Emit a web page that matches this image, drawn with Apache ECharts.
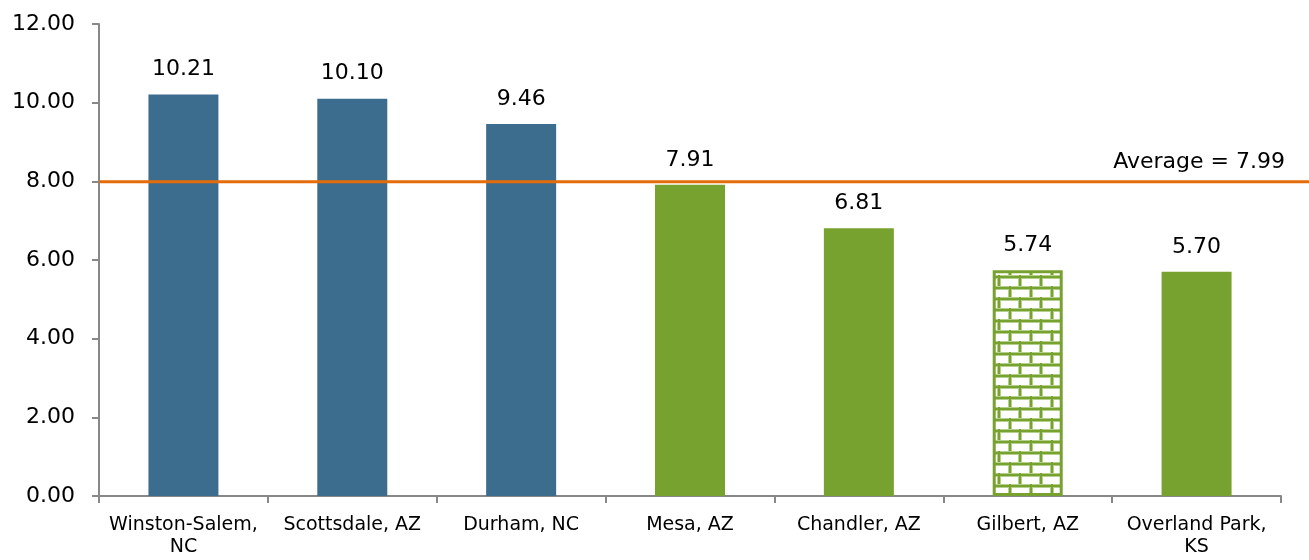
<!DOCTYPE html>
<html>
<head>
<meta charset="utf-8">
<script src="https://cdn.jsdelivr.net/npm/echarts@6/dist/echarts.min.js"></script>
<style>
html,body{margin:0;padding:0;background:#fff;}
#chart{width:1309px;height:560px;}
</style>
</head>
<body>
<div id="chart"></div>
<script>
const categories = ["Winston-Salem,\nNC", "Scottsdale, AZ", "Durham, NC", "Mesa, AZ", "Chandler, AZ", "Gilbert, AZ", "Overland Park,\nKS"];
const values = [10.21, 10.10, 9.46, 7.91, 6.81, 5.74, 5.70];
const groups = ["blue", "blue", "blue", "green", "green", "brick", "green"];
const averageValue = 7.99;
const yTicks = { min: 0, max: 12, interval: 2 };

const BLUE = "#3D6D8E";
const GREEN = "#77A22F";
const NUM_FONT = "DejaVu Sans";
const CAT_FONT = "DejaVu Sans";

function brickPattern() {
  const w = 42, h = 22;
  const c = document.createElement("canvas");
  c.width = w; c.height = h;
  const g = c.getContext("2d");
  g.fillStyle = "#ffffff";
  g.fillRect(0, 0, w, h);
  g.fillStyle = "#B5CF8C";
  g.fillRect(0, 0, w, 4);
  g.fillRect(0, 11, w, 4);
  g.fillRect(0, 0, 4, 11);
  g.fillRect(21, 0, 4, 11);
  g.fillRect(10, 11, 4, 11);
  g.fillRect(31, 11, 4, 11);
  g.fillStyle = GREEN;
  g.fillRect(0, 1, w, 2);
  g.fillRect(0, 12, w, 2);
  g.fillRect(1, 0, 2, 11);
  g.fillRect(22, 0, 2, 11);
  g.fillRect(11, 11, 2, 11);
  g.fillRect(32, 11, 2, 11);
  return c;
}

const chart = echarts.init(document.getElementById("chart"), null, { renderer: "canvas" });

const barData = values.map((v, i) => {
  if (groups[i] === "brick") {
    return { value: v, itemStyle: { color: { image: brickPattern(), repeat: "repeat" }, borderColor: GREEN, borderWidth: 3 } };
  }
  return { value: v, itemStyle: { color: groups[i] === "blue" ? BLUE : GREEN } };
});

const option = {
  animation: false,
  backgroundColor: "#ffffff",
  grid: [
    { left: 99, right: 28, top: 24, bottom: 64 },
    { left: 99, right: 0, top: 24, bottom: 64 }
  ],
  xAxis: [
    {
      type: "category",
      gridIndex: 0,
      data: categories,
      axisLine: { show: true, lineStyle: { color: "#888888", width: 2 } },
      axisTick: { show: true, alignWithLabel: false, length: 7, lineStyle: { color: "#888888", width: 2 } },
      axisLabel: { color: "#000", fontFamily: CAT_FONT, fontSize: 19, lineHeight: 22, margin: 18, interval: 0 }
    },
    { type: "value", gridIndex: 1, min: 0, max: 1, show: false }
  ],
  yAxis: [
    {
      type: "value",
      gridIndex: 0,
      min: yTicks.min, max: yTicks.max, interval: yTicks.interval,
      axisLine: { show: true, lineStyle: { color: "#888888", width: 2 } },
      axisTick: { show: true, length: 7, lineStyle: { color: "#888888", width: 2 } },
      splitLine: { show: false },
      axisLabel: { color: "#000", fontFamily: NUM_FONT, fontSize: 22, margin: 24, formatter: v => v.toFixed(2) }
    },
    { type: "value", gridIndex: 1, min: yTicks.min, max: yTicks.max, show: false }
  ],
  series: [
    {
      type: "bar",
      xAxisIndex: 0, yAxisIndex: 0,
      data: barData,
      barWidth: 70,
      label: {
        show: true, position: "top", distance: 14,
        color: "#000", fontFamily: NUM_FONT, fontSize: 22,
        formatter: p => p.value.toFixed(2)
      },
      z: 2
    },
    {
      type: "line",
      xAxisIndex: 1, yAxisIndex: 1,
      data: [
        { value: [0, averageValue], label: { show: false } },
        { value: [1, averageValue], label: {
            show: true, position: "top", align: "right", offset: [-24, -3],
            formatter: "Average = " + averageValue.toFixed(2),
            color: "#000", fontFamily: NUM_FONT, fontSize: 22
        } }
      ],
      symbol: "circle",
      symbolSize: 1,
      showSymbol: true,
      itemStyle: { color: "rgba(0,0,0,0)" },
      lineStyle: { color: "#E46C0A", width: 3 },
      clip: false,
      z: 5
    }
  ]
};
chart.setOption(option);
</script>
</body>
</html>
